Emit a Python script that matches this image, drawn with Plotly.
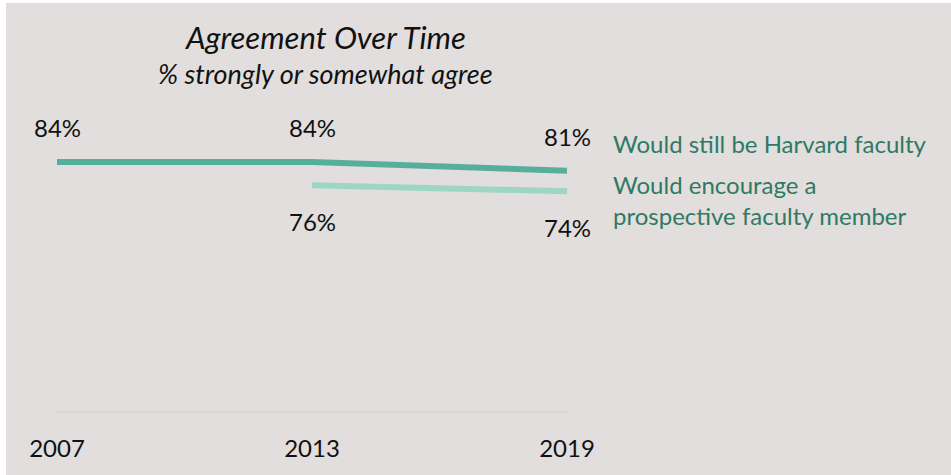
import plotly.graph_objects as go

# Survey years and agreement shares (%)
years = [2007, 2013, 2019]
still_faculty = [84, 84, 81]
encourage_years = [2013, 2019]
encourage = [76, 74]
year_labels = ["2007", "2013", "2019"]

series_names = ["Would still be Harvard faculty",
                "Would encourage a<br>prospective faculty member"]

DARK = "#57af9b"
LIGHT = "#9dd6c5"
TEXT_GREEN = "#2f7a64"
BG = "#e1dedd"
FONT = "Lato"

fig = go.Figure()
fig.add_trace(go.Scatter(x=years, y=still_faculty, mode="lines",
                         line=dict(color=DARK, width=6), hoverinfo="skip"))
fig.add_trace(go.Scatter(x=encourage_years, y=encourage, mode="lines",
                         line=dict(color=LIGHT, width=6), hoverinfo="skip"))

annotations = []
# value labels above the upper line
for x, v in zip(years, still_faculty):
    annotations.append(dict(x=x, y=v, xref="x", yref="y", text=f"{v}%",
                            showarrow=False, yshift=34,
                            font=dict(family=FONT, size=24, color="#111111")))
# value labels below the lower line
for x, v in zip(encourage_years, encourage):
    annotations.append(dict(x=x, y=v, xref="x", yref="y", text=f"{v}%",
                            showarrow=False, yshift=-36,
                            font=dict(family=FONT, size=24, color="#111111")))

# series names to the right of the lines
leg_x = (611 - 57) / 510
annotations.append(dict(x=leg_x, y=still_faculty[-1], xref="paper", yref="y",
                        text=series_names[0], showarrow=False, xanchor="left",
                        yshift=27, align="left",
                        font=dict(family=FONT, size=24, color=TEXT_GREEN)))
annotations.append(dict(x=leg_x, y=encourage[-1], xref="paper", yref="y",
                        text=series_names[1], showarrow=False, xanchor="left",
                        yshift=-9, align="left",
                        font=dict(family=FONT, size=24, color=TEXT_GREEN)))

# title and subtitle
annotations.append(dict(x=(325 - 57) / 510, y=1, xref="paper", yref="paper",
                        text="<i>Agreement Over Time</i>", showarrow=False,
                        yanchor="middle", yshift=(410.7 - 296 - 37),
                        font=dict(family=FONT, size=31, color="#111111")))
annotations.append(dict(x=(325 - 57) / 510, y=1, xref="paper", yref="paper",
                        text="<i>% strongly or somewhat agree</i>", showarrow=False,
                        yanchor="middle", yshift=(410.7 - 296 - 73),
                        font=dict(family=FONT, size=27, color="#111111")))

fig.update_layout(
    width=951, height=475,
    margin=dict(l=57, r=384, t=115, b=64),
    paper_bgcolor="white",
    plot_bgcolor="rgba(0,0,0,0)",
    showlegend=False,
    annotations=annotations,
    shapes=[dict(type="rect", xref="paper", yref="paper", layer="below",
                 x0=(6 - 57) / 510, x1=(951 - 57) / 510,
                 y0=-64 / 296, y1=(475 - 64 - 3) / 296,
                 fillcolor=BG, line=dict(width=0))],
    xaxis=dict(range=[2007, 2019], tickvals=years, ticktext=year_labels,
               showgrid=False, zeroline=False, showline=True,
               linecolor="#d6d6d2", linewidth=1.5, ticks="",
               ticklabelstandoff=15,
               tickfont=dict(family=FONT, size=24, color="#111111")),
    yaxis=dict(range=[-1, 100], visible=False, showgrid=False, zeroline=False),
)

fig.write_html("out.html")
